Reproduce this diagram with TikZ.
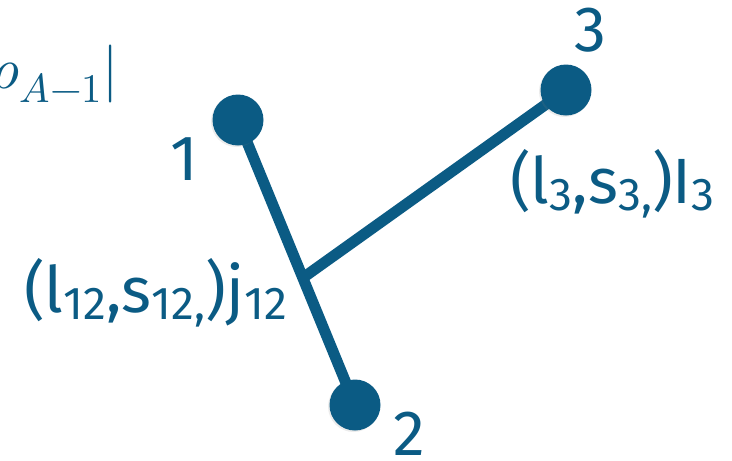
\documentclass[tikz,border=0pt]{standalone}
\usepackage{unicode-math}
\setmainfont{Fira Sans}
\setmathfont{Latin Modern Math}
\usetikzlibrary{calc,shadows}
\definecolor{dk}{HTML}{0B5B84}
\newcommand{\sbs}[1]{\raisebox{-7pt}{\fontsize{46}{48}\selectfont #1}}
\tikzset{
  dot/.style={circle,fill=dk,draw=none,minimum size=51pt,inner sep=0pt,
    drop shadow={opacity=0.15,shadow xshift=-1.5pt,shadow yshift=-1.5pt}},
  bond/.style={draw=dk,line width=11pt},
  numlab/.style={text=dk,inner sep=0pt,font=\fontsize{64}{66}\selectfont},
  qlab/.style={text=dk,inner sep=0pt,font=\fontsize{64}{66}\selectfont},
}
\begin{document}
\begin{tikzpicture}[x=1pt,y=-1pt]
\useasboundingbox (0,0) rectangle (732,461);
\clip (0,0) rectangle (732,461);
\coordinate (p1) at (238,120);
\coordinate (p2) at (355,405);
\coordinate (p3) at (566,90);
\coordinate (j) at ($(p1)!0.554!(p2)$);
\draw[bond] (p1) -- (p2);
\draw[bond] (j) -- (p3);
\node[dot] (n1) at (p1) {};
\node[dot] (n2) at (p2) {};
\node[dot] (n3) at (p3) {};
\node[numlab,anchor=base] (t1) at (184,180) {1};
\node[numlab,anchor=base] (t2) at (409,455) {2};
\node[numlab,anchor=base] (t3) at (590,51) {3};
\node[qlab,anchor=base west] (q12) at (24,312) {(l\sbs{12},s\sbs{12,})j\sbs{12}};
\node[qlab,anchor=base west] (q3) at (510,203) {(l\sbs{3},s\sbs{3,})I\sbs{3}};
\node[text=dk,inner sep=0pt,anchor=base east,font=\fontsize{58}{60}\selectfont] (rho) at (119,88) {$\rho_{A-1}|$};
\end{tikzpicture}
\end{document}
